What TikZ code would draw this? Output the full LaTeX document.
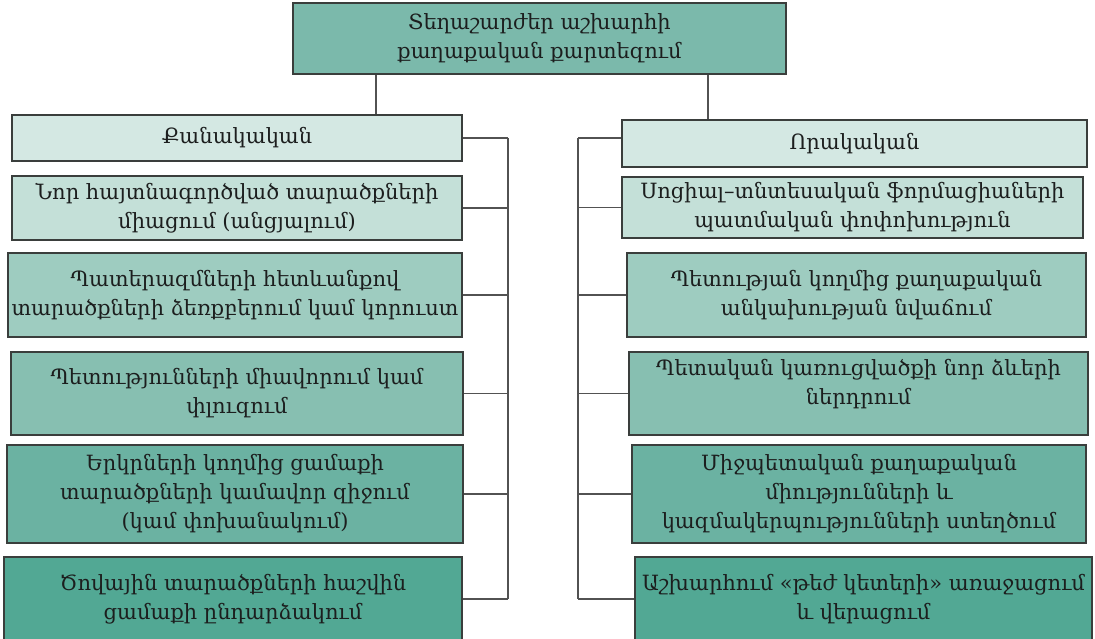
\documentclass[tikz,border=0pt]{standalone}
\usepackage{fontspec}
\setmainfont{DejaVu Serif}
\usetikzlibrary{calc}
\definecolor{titlefill}{RGB}{123,185,171}
\definecolor{toneA}{RGB}{212,232,227}
\definecolor{toneB}{RGB}{196,224,216}
\definecolor{toneC}{RGB}{158,204,192}
\definecolor{toneD}{RGB}{135,191,177}
\definecolor{toneE}{RGB}{107,178,162}
\definecolor{toneF}{RGB}{82,168,148}
\definecolor{edge}{RGB}{58,62,60}
\definecolor{ink}{RGB}{28,30,30}
\tikzset{
  block/.style={
    draw=edge,
    line width=1.2pt,
    align=center,
    inner sep=0pt,
    text=ink,
    font=\fontsize{21}{29}\selectfont
  },
  link/.style={draw=black!68,line width=1.1pt}
}
\newcommand{\catbox}[6]{%
  \node[block,fill=#2,minimum width=#4pt,minimum height=#5pt] (#1) at (#3) {#6};%
}

\begin{document}
\begin{tikzpicture}[x=1pt,y=-1pt]
  \useasboundingbox (0,0) rectangle (1095,639);

  % Title.
  \catbox{top}{titlefill}{539.5,38.5}{493}{71}{Տեղաշարժեր աշխարհի\\քաղաքական քարտեզում}

  % Left column: quantitative changes.
  \catbox{L1}{toneA}{237,138}{450}{46}{Քանակական}
  \catbox{L2}{toneB}{237,208}{450}{64}{Նոր հայտնագործված տարածքների\\միացում (անցյալում)}
  \catbox{L3}{toneC}{235,295}{454}{84}{Պատերազմների հետևանքով\\տարածքների ձեռքբերում կամ կորուստ}
  \catbox{L4}{toneD}{237,393.5}{452}{83}{Պետությունների միավորում կամ\\փլուզում}
  \catbox{L5}{toneE}{235,494}{456}{98}{Երկրների կողմից ցամաքի\\տարածքների կամավոր զիջում\\(կամ փոխանակում)}
  \catbox{L6}{toneF}{233,599}{458}{84}{Ծովային տարածքների հաշվին\\ցամաքի ընդարձակում}

  % Right column: qualitative changes.
  \catbox{R1}{toneA}{854.5,143.5}{465}{47}{Որակական}
  \catbox{R2}{toneB}{852.5,207.5}{461}{61}{Սոցիալ–տնտեսական ֆորմացիաների\\պատմական փոփոխություն}
  \catbox{R3}{toneC}{856.5,295}{459}{84}{Պետության կողմից քաղաքական\\անկախության նվաճում}
  \catbox{R4}{toneD}{858.5,393.5}{459}{83}{Պետական կառուցվածքի նոր ձևերի\\ներդրում\\[-6pt]\mbox{}}
  \catbox{R5}{toneE}{859,494}{454}{98}{Միջպետական քաղաքական\\միությունների և\\կազմակերպությունների ստեղծում}
  \catbox{R6}{toneF}{863.5,599}{457}{84}{Աշխարհում «թեժ կետերի» առաջացում\\և վերացում}

  % Drops and buses.
  \coordinate (ldrop) at (376,0);
  \coordinate (rdrop) at (708,0);
  \coordinate (lbus) at (508,0);
  \coordinate (rbus) at (578,0);
  \draw[link] (top.south -| ldrop) -- (L1.north -| ldrop);
  \draw[link] (top.south -| rdrop) -- (R1.north -| rdrop);
  \foreach \n in {L1,L2,L3,L4,L5,L6} {
    \draw[link] (\n.east) -- (\n.east -| lbus);
  }
  \draw[link] ([yshift=5.5pt]R1.west) -- ([yshift=5.5pt]R1.west -| rbus);
  \foreach \n in {R2,R3,R4,R5,R6} {
    \draw[link] (\n.west) -- (\n.west -| rbus);
  }
  \draw[link] (L1.east -| lbus) -- (L6.east -| lbus);
  \draw[link] ([yshift=5.5pt]R1.west -| rbus) -- (R6.west -| rbus);
\end{tikzpicture}
\end{document}
